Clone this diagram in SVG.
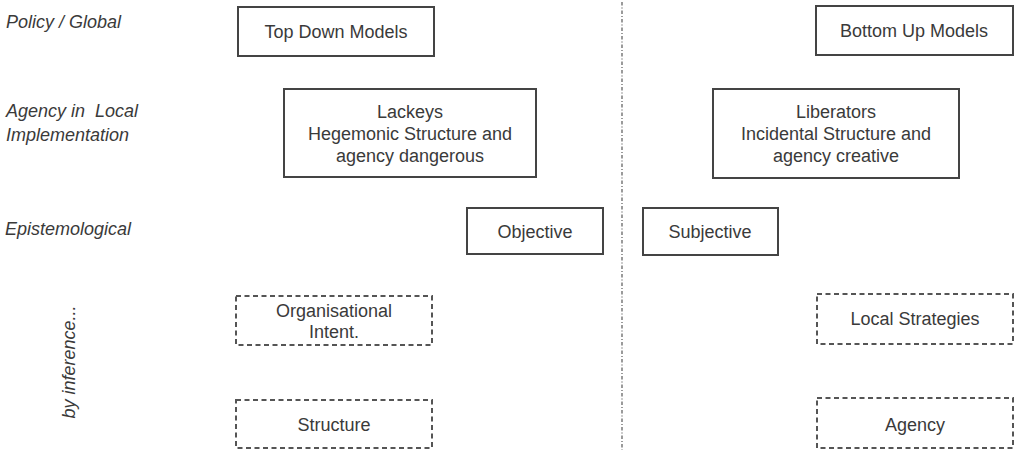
<svg xmlns="http://www.w3.org/2000/svg" width="1017" height="450" viewBox="0 0 1017 450">
<style>
text{font-family:"Liberation Sans",Arial,sans-serif;fill:#3a3a3a;font-size:18px}
.lbl{font-style:italic;text-anchor:start}
.c{text-anchor:middle}
.box{fill:none;stroke:#444;stroke-width:2}
.dbox{fill:none;stroke:#555;stroke-width:2;stroke-dasharray:5 3.5}
.div{stroke:#666;stroke-width:1.3;stroke-dasharray:3.5 2 1 2;fill:none}
</style>
<rect width="1017" height="450" fill="#fff"/>
<g id="labels">
<text class="lbl" x="6" y="28">Policy / Global</text>
<text class="lbl" x="6" y="117" xml:space="preserve">Agency in  Local</text>
<text class="lbl" x="6" y="141">Implementation</text>
<text class="lbl" x="5" y="235">Epistemological</text>
<text class="lbl c" transform="translate(75,362) rotate(-90)">by inference...</text>
</g>
<g id="connectors">
<line class="div" x1="622" y1="2" x2="622" y2="450"/>
</g>
<g id="top-down"><rect class="box" x="238" y="7" width="196" height="49"/><text class="c" x="336" y="38">Top Down Models</text></g>
<g id="bottom-up"><rect class="box" x="816" y="6" width="197" height="49"/><text class="c" x="914" y="37">Bottom Up Models</text></g>
<g id="lackeys"><rect class="box" x="284" y="89" width="252" height="88"/>
<text class="c" x="410" y="118">Lackeys</text><text class="c" x="410" y="140">Hegemonic Structure and</text><text class="c" x="410" y="162">agency dangerous</text></g>
<g id="liberators"><rect class="box" x="713" y="89" width="246" height="89"/>
<text class="c" x="836" y="118">Liberators</text><text class="c" x="836" y="140">Incidental Structure and</text><text class="c" x="836" y="162">agency creative</text></g>
<g id="objective"><rect class="box" x="467" y="208" width="136" height="46"/><text class="c" x="535" y="238">Objective</text></g>
<g id="subjective"><rect class="box" x="643" y="208" width="135" height="47"/><text class="c" x="710" y="238">Subjective</text></g>
<g id="org-intent"><rect class="dbox" x="236" y="296" width="196" height="49"/>
<text class="c" x="334" y="317">Organisational</text><text class="c" x="334" y="338">Intent.</text></g>
<g id="structure"><rect class="dbox" x="236" y="400" width="196" height="48"/><text class="c" x="334" y="431">Structure</text></g>
<g id="local-strategies"><rect class="dbox" x="817" y="294" width="196" height="50"/><text class="c" x="915" y="325">Local Strategies</text></g>
<g id="agency"><rect class="dbox" x="817" y="398" width="196" height="50"/><text class="c" x="915" y="431">Agency</text></g>
</svg>
